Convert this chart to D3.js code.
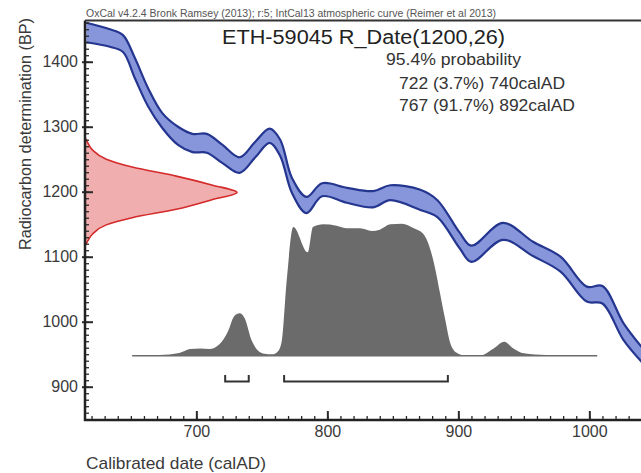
<!DOCTYPE html>
<html>
<head>
<meta charset="utf-8">
<script src="https://cdn.jsdelivr.net/npm/d3@7"></script>
<style>
	body { margin: 0; background: #fff; }
	svg { display: block; font-family: "Liberation Sans", Arial, sans-serif; }
</style>
</head>
<body>
<svg id="chart" width="641" height="473"></svg>
<script>
/*global d3 */
// IntCal13 band (calendar year, upper and lower BP edge)
var curveYears = [616, 634, 644, 653, 663, 674, 686, 697, 708, 720, 733, 745, 756, 764, 773, 784, 796, 815, 835, 848, 871, 884, 901, 910, 934, 957, 978, 998, 1010, 1026, 1040];
var curveHigh = [1460, 1450, 1441, 1406, 1360, 1321, 1300, 1289, 1289, 1272, 1253, 1277, 1297, 1280, 1221, 1192, 1213, 1206, 1201, 1210, 1203, 1187, 1137, 1117, 1152, 1123, 1100, 1054, 1055, 998, 961];
var curveLow = [1430, 1423, 1415, 1375, 1332, 1298, 1272, 1261, 1260, 1244, 1229, 1253, 1275, 1255, 1198, 1167, 1193, 1183, 1176, 1187, 1172, 1161, 1113, 1092, 1126, 1101, 1077, 1031, 1028, 972, 938];

// measured date R_Date(1200,26), relative height
var dateBp = [1283, 1279, 1264, 1250, 1238, 1224, 1210, 1199, 1188, 1173, 1160, 1149, 1135, 1121, 1117];
var dateDensity = [0, 0.01, 0.05, 0.14, 0.31, 0.60, 0.84, 1.0, 0.84, 0.60, 0.31, 0.14, 0.05, 0.01, 0];

// calibrated distribution, relative height
var probYears = [651, 672, 687, 695, 703, 710, 718, 724, 729, 733, 737, 742, 747, 752, 758, 762, 765, 769, 774, 785, 789, 797, 807, 815, 825, 834, 840, 848, 857, 866, 873, 878, 882, 886, 890, 894, 899, 906, 916, 927, 935, 942, 950, 967, 1006];
var probDensity = [0, 0.005, 0.02, 0.05, 0.055, 0.05, 0.09, 0.18, 0.30, 0.32, 0.28, 0.12, 0.04, 0.015, 0.01, 0.03, 0.10, 0.57, 0.97, 0.78, 0.97, 0.99, 0.98, 0.96, 0.96, 0.94, 0.95, 0.99, 0.995, 0.96, 0.92, 0.82, 0.67, 0.47, 0.27, 0.09, 0.02, 0, 0, 0.055, 0.105, 0.055, 0.018, 0.005, 0];

// 95.4% ranges
var rangeFrom = [722, 767];
var rangeTo = [740, 892];

var yTicks = [900, 1000, 1100, 1200, 1300, 1400];
var xTicks = [700, 800, 900, 1000];

var headerText = 'OxCal v4.2.4 Bronk Ramsey (2013); r:5; IntCal13 atmospheric curve (Reimer et al 2013)';
var titleText = 'ETH-59045 R_Date(1200,26)';
var rangeLines = ['95.4% probability', '722 (3.7%) 740calAD', '767 (91.7%) 892calAD'];

(function () {
	'use strict';
	var svg = d3.select('#chart'),
		font = '"Liberation Sans", Arial, sans-serif',
		left = 85, right = 641.75, top = 20.5, bottom = 420,
		x, y, dateX, probY, curve, plot,
		drawAxes, drawCurve, drawDate, drawProb, drawText;

	x = d3.scaleLinear().domain([615, 1040]).range([left, right]);
	y = d3.scaleLinear().domain([848.8, 1464.2]).range([bottom, 20]);
	dateX = d3.scaleLinear().domain([0, 1]).range([left, left + 152]);
	probY = d3.scaleLinear().domain([0, 1]).range([355.7, 223]);

	curve = curveYears.map(function (d, i) {
		return { year: d, hi: curveHigh[i], lo: curveLow[i] };
	});

	svg.append('clipPath').attr('id', 'plotClip')
		.append('rect').attr('x', left).attr('y', top).attr('width', right - left).attr('height', bottom - top);
	plot = svg.append('g').attr('clip-path', 'url(#plotClip)');

	drawCurve = function () {
		var area = d3.area()
				.x(function (d) { return x(d.year); })
				.y0(function (d) { return y(d.lo); })
				.y1(function (d) { return y(d.hi); })
				.curve(d3.curveCatmullRom),
			edge = function (key) {
				return d3.line()
					.x(function (d) { return x(d.year); })
					.y(function (d) { return y(d[key]); })
					.curve(d3.curveCatmullRom);
			};
		plot.append('path').datum(curve).attr('d', area).attr('fill', '#8796da');
		plot.append('path').datum(curve).attr('d', edge('hi'))
			.attr('fill', 'none').attr('stroke', '#24368f').attr('stroke-width', 2.2);
		plot.append('path').datum(curve).attr('d', edge('lo'))
			.attr('fill', 'none').attr('stroke', '#24368f').attr('stroke-width', 2.2);
	};

	drawDate = function () {
		var pts = dateBp.map(function (d, i) { return { bp: d, p: dateDensity[i] }; });
		plot.append('path').datum(pts)
			.attr('d', d3.area()
				.y(function (d) { return y(d.bp); })
				.x0(dateX(0))
				.x1(function (d) { return dateX(d.p); })
				.curve(d3.curveMonotoneY))
			.attr('fill', '#eea5a5').attr('fill-opacity', 0.9);
		plot.append('path').datum(pts)
			.attr('d', d3.line()
				.y(function (d) { return y(d.bp); })
				.x(function (d) { return dateX(d.p); })
				.curve(d3.curveMonotoneY))
			.attr('fill', 'none').attr('stroke', '#d42a2a').attr('stroke-width', 1.6);
	};

	drawProb = function () {
		var pts = probYears.map(function (d, i) { return { year: d, p: probDensity[i] }; }),
			i, by;
		plot.append('path').datum(pts)
			.attr('d', d3.area()
				.x(function (d) { return x(d.year); })
				.y0(probY(0))
				.y1(function (d) { return probY(d.p); })
				.curve(d3.curveMonotoneX))
			.attr('fill', '#6b6b6b');
		plot.append('line')
			.attr('x1', x(probYears[0])).attr('x2', x(probYears[probYears.length - 1]))
			.attr('y1', probY(0)).attr('y2', probY(0))
			.attr('stroke', '#6b6b6b').attr('stroke-width', 1.5);

		// range brackets
		by = 381.5;
		for (i = 0; i < rangeFrom.length; i++) {
			plot.append('path')
				.attr('d', 'M' + x(rangeFrom[i]) + ',' + (by - 6.5) + 'V' + by + 'H' + x(rangeTo[i]) + 'V' + (by - 6.5))
				.attr('fill', 'none').attr('stroke', '#333').attr('stroke-width', 2);
		}
	};

	drawAxes = function () {
		var g, style;
		style = function (sel, size) {
			sel.select('.domain').remove();
			sel.attr('font-family', font);
			sel.selectAll('.tick line').attr('stroke', '#2a2a2a').attr('stroke-width', size);
			sel.selectAll('.tick text').attr('fill', '#3a3a3a').attr('font-size', 16)
				.attr('font-family', font);
		};

		// y minor + major
		g = svg.append('g').attr('transform', 'translate(' + left + ',0)')
			.call(d3.axisLeft(y).tickValues(d3.range(850, 1461, 10)).tickSizeInner(-4).tickSizeOuter(0).tickFormat(''));
		style(g, 1.3);
		g = svg.append('g').attr('transform', 'translate(' + left + ',0)')
			.call(d3.axisLeft(y).tickValues(yTicks).tickSizeInner(-8).tickSizeOuter(0).tickPadding(7).tickFormat(d3.format('d')));
		style(g, 2);
		g.selectAll('.tick line').attr('x1', -3);

		// x minor + major
		g = svg.append('g').attr('transform', 'translate(0,' + bottom + ')')
			.call(d3.axisBottom(x).tickValues(d3.range(620, 1040, 10)).tickSizeInner(-4).tickSizeOuter(0).tickFormat(''));
		style(g, 1.3);
		g = svg.append('g').attr('transform', 'translate(0,' + bottom + ')')
			.call(d3.axisBottom(x).tickValues(xTicks).tickSizeInner(-9).tickSizeOuter(0).tickPadding(5.5).tickFormat(d3.format('d')));
		style(g, 2);

		// frame
		svg.append('path')
			.attr('d', 'M' + left + ',' + top + 'V' + bottom + 'H' + 641)
			.attr('fill', 'none').attr('stroke', '#222').attr('stroke-width', 2.5);
		svg.append('line')
			.attr('x1', left).attr('x2', 641).attr('y1', top).attr('y2', top)
			.attr('stroke', '#333').attr('stroke-width', 1.8);
	};

	drawText = function () {
		svg.append('text').attr('x', 86).attr('y', 17)
			.attr('font-size', 10).attr('fill', '#555')
			.attr('textLength', 410).attr('lengthAdjust', 'spacingAndGlyphs')
			.text(headerText);
		svg.append('text').attr('x', 222).attr('y', 44)
			.attr('font-size', 20).attr('fill', '#222')
			.attr('textLength', 283).attr('lengthAdjust', 'spacingAndGlyphs')
			.text(titleText);
		svg.selectAll('text.range').data(rangeLines).enter().append('text')
			.attr('class', 'range')
			.attr('x', function (d, i) { return i === 0 ? 386 : 399; })
			.attr('y', function (d, i) { return [65, 89, 111][i]; })
			.attr('font-size', 16.5).attr('fill', '#333')
			.attr('textLength', function (d, i) { return [135, 166, 176][i]; })
			.attr('lengthAdjust', 'spacingAndGlyphs')
			.text(function (d) { return d; });

		// axis titles
		svg.append('text')
			.attr('transform', 'translate(31,134) rotate(-90)')
			.attr('text-anchor', 'middle')
			.attr('font-size', 16.5).attr('fill', '#3a3a3a')
			.attr('textLength', 232).attr('lengthAdjust', 'spacingAndGlyphs')
			.text('Radiocarbon determination (BP)');
		svg.append('text').attr('x', 86).attr('y', 469)
			.attr('font-size', 17).attr('fill', '#3a3a3a')
			.attr('textLength', 180).attr('lengthAdjust', 'spacingAndGlyphs')
			.text('Calibrated date (calAD)');
	};

	drawCurve();
	drawDate();
	drawProb();
	drawAxes();
	drawText();
}());
</script>
</body>
</html>
